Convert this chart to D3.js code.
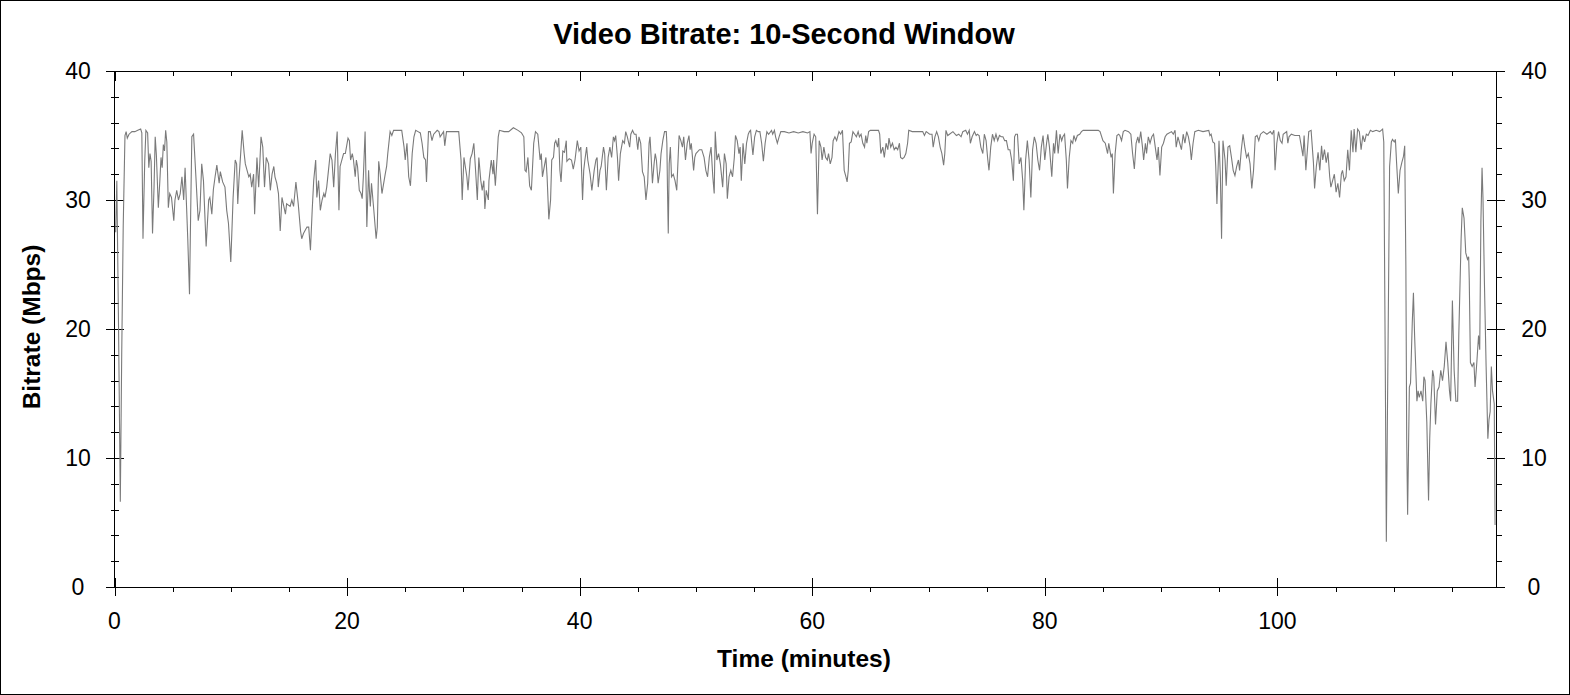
<!DOCTYPE html>
<html>
<head>
<meta charset="utf-8">
<script src="https://cdn.jsdelivr.net/npm/d3@7"></script>
<style>
  body { margin: 0; background: #fff; }
  svg { display: block; font-family: "Liberation Sans", Arial, sans-serif; }
  .tick line { stroke: #000; shape-rendering: crispEdges; }
</style>
</head>
<body>
<svg id="chart" width="1570" height="695"></svg>
<script>
// bitrate samples, [minute, Mbps]
var opening = [
  [0.1,27.5],[0.2,31.5],[0.35,20],[0.5,6.6],[0.62,18],[0.75,28],[0.9,35.0],[1.0,35.3],[1.1,34.8],[1.25,35.1],
  [1.5,35.3],[1.75,35.3],[2.0,35.4],[2.25,35.5],[2.35,35.2],[2.45,27.0],[2.6,33],[2.7,35.4],[2.85,35.2],[2.95,32.5],
  [3.05,33.6],[3.15,33],[3.27,27.4],[3.4,31],[3.5,34.9],[3.6,33.5],[3.77,29.4],[3.9,31.5],[4.0,33.3],[4.1,32.5],
  [4.2,34.3],[4.3,33.8],[4.4,35.4],[4.5,34.5],[4.63,29.4],[4.75,30.5],[4.9,30.2],[5.1,28.4],[5.2,30],[5.35,30.75],
  [5.5,30.0],[5.65,30.5],[5.8,31.8],[5.95,30],[6.07,32.5],[6.2,29.4],[6.3,27],[6.45,22.7],[6.55,29],[6.65,34.9],
  [6.8,35.1],[7.0,31.8],[7.2,28.4],[7.35,29.2],[7.5,32.8],[7.65,31.5],[7.88,26.4],[8.1,30.0],[8.2,30.2],[8.37,28.9],
  [8.5,30.8],[8.65,31.8],[8.8,32.7],[9.0,31.3],[9.1,32.2],[9.3,31.4],[9.5,31.0],[9.65,29.2],[9.8,28.2],[10.0,25.2],
  [10.2,30.2],[10.38,33.1],[10.5,32.8],[10.6,29.7],[10.7,31.5],[10.98,35.4],[11.15,33.6],[11.25,32.8],[11.4,32.3],[11.55,31.8],
  [11.67,32.0],[11.8,31.0],[11.96,32.0],[12.05,28.9],[12.25,33.3],[12.4,31.0],[12.6,34.9],[12.75,34.1],[12.9,31.0],[13.05,33.3],
  [13.25,32.8],[13.4,30.75],[13.55,32.0],[13.7,32.6],[13.8,31.8],[13.95,31.3],[14.1,30.5],[14.25,27.6],[14.4,30.2],[14.7,28.9],
  [14.8,29.7],[15.1,29.5],[15.25,30],[15.4,29.5],[15.6,31.4],[15.8,29.7],[16.0,27.6],[16.1,27.0],[16.25,27.4],[16.55,27.9],
  [16.7,27.9],[16.85,26.1],[17.0,29.2],[17.13,31.5],[17.3,33.1],[17.4,30.2],[17.55,31.5],[17.7,29.2],[17.85,30],[18.0,30.5],
  [18.1,30.2],[18.25,31.0],[18.4,32.3],[18.55,33.6],[18.7,33.1],[18.85,31.0],[19.0,33.6],[19.15,35.3],[19.3,29.2],[19.4,32.6],
  [19.7,33.6],[19.85,33.6]
];

var twenties = [
  [20.08,34.8],[20.2,34.6],[20.3,33.1],[20.45,33.6],[20.55,33.1],[20.7,31.8],[20.8,33.1],[20.9,32.6],[21.05,30.75],[21.2,30.5],
  [21.3,30.1],[21.4,31.8],[21.55,35.3],[21.62,31.8],[21.7,27.9],[21.85,32.3],[21.92,30.75],[22.0,29.5],[22.1,31.3],[22.3,29.2],
  [22.5,27.0],[22.6,27.9],[22.72,33.0],[22.85,32.0],[23.0,30.5],[23.28,32.0],[23.4,32.6],[23.5,33.6],[23.7,35.3],[23.85,35.0],
  [24.0,35.4],[24.3,35.4],[24.7,35.4],[24.9,34.1],[25.0,33.1],[25.15,34.4],[25.3,31.8],[25.45,31.1],[25.6,33.6],[25.75,34.9],
  [25.9,35.4],[26.1,35.3],[26.3,35.2],[26.45,34.4],[26.6,33.3],[26.75,33.1],[26.83,31.4],[27.0,35.3],[27.15,35.3],[27.3,34.6],
  [27.45,35.1],[27.75,35.4],[27.9,35.3],[28.0,34.9],[28.3,35.3],[28.4,34.2],[28.55,35.3],[28.75,35.3],[29.0,35.3],[29.3,35.3],
  [29.6,35.3],[29.8,33.1],[29.9,30.0],[30.05,33.3],[30.2,32.4],[30.3,31.8],[30.4,30.75],[30.6,33.2],[30.75,33.6],[30.9,34.4],
  [31.05,32.3],[31.2,30.0],[31.33,33.3],[31.5,31.5],[31.62,30.75],[31.76,31.5],[31.85,29.3],[31.97,30.75],[32.15,30.0],[32.2,31.5],
  [32.4,33.1],[32.55,32.0],[32.6,33.1],[32.75,31.1],[32.9,33.3],[33.0,34.9],[33.1,35.4],[33.5,35.3],[33.9,35.3],[34.3,35.6],
  [34.7,35.4],[35.0,35.2],[35.2,34.9],[35.3,32.3],[35.4,32.2],[35.55,33.3],[35.7,31.1],[35.85,30.75],[36.05,34.4],[36.2,35.3],
  [36.4,35.1],[36.6,33.1],[36.7,33.6],[36.8,31.8],[37.1,33.3],[37.2,31.8],[37.35,28.5],[37.5,30.0],[37.6,33.1],[37.75,33.3],
  [37.85,34.4],[37.95,34.6],[38.1,34.1],[38.2,34.8],[38.3,32.3],[38.4,31.4],[38.55,33.8],[38.7,33.7],[38.85,34.6],[38.9,33.0],
  [39.1,33.2],[39.3,33.1],[39.45,32.4],[39.6,33.1],[39.8,34.6],[39.95,33.8],[40.1,34.1]
];

var forties = [
  [40.25,30.0],[40.35,32.3],[40.45,33.1],[40.6,34.1],[40.7,33.1],[40.9,32.0],[41.05,30.75],[41.25,32.3],[41.4,33.1],[41.5,33.3],
  [41.6,31.0],[41.75,32.3],[41.85,32.6],[42.05,34.1],[42.15,33.6],[42.3,30.75],[42.45,33.3],[42.6,34.1],[42.75,33.3],[42.9,34.9],
  [43.0,34.6],[43.1,35.0],[43.25,33.3],[43.35,31.5],[43.5,33.6],[43.7,34.6],[43.85,34.4],[43.96,35.3],[44.1,34.9],[44.3,34.1],
  [44.4,35.1],[44.55,35.4],[44.7,35.1],[44.85,35.1],[45.0,33.9],[45.1,34.9],[45.25,34.4],[45.4,32.2],[45.55,31.8],[45.7,30.0],
  [45.85,31.3],[45.97,34.4],[46.05,34.9],[46.15,33.3],[46.26,31.3],[46.4,32.8],[46.5,33.6],[46.6,33.1],[46.75,31.3],[46.9,32.3],
  [47.0,33.6],[47.15,34.6],[47.3,35.3],[47.45,35.3],[47.5,34.4],[47.55,31.0],[47.62,27.4],[47.7,32.8],[47.8,34.1],[47.9,31.8],
  [48.05,32.0],[48.2,31.5],[48.35,30.75],[48.55,35.0],[48.7,34.6],[48.84,34.1],[48.95,34.9],[49.1,33.1],[49.25,34.4],[49.4,35.0],
  [49.5,33.9],[49.6,34.4],[49.8,32.3],[49.9,33.3],[50.0,33.6],[50.3,33.9],[50.5,33.9],[50.7,33.3],[50.85,32.3],[51.0,31.8],
  [51.15,33.3],[51.3,34.1],[51.45,31.8],[51.57,30.5],[51.66,35.3],[51.8,33.1],[51.95,33.6],[52.1,32.8],[52.3,31.0],[52.45,33.6],
  [52.6,32.8],[52.7,30.1],[52.85,31.8],[53.0,32.3],[53.15,31.8],[53.3,33.3],[53.4,35.0],[53.55,34.6],[53.7,33.6],[53.8,34.1],
  [53.9,31.5],[54.05,34.4],[54.2,32.8],[54.35,34.4],[54.5,35.1],[54.6,35.3],[54.7,35.4],[54.8,34.4],[54.9,33.5],[55.05,34.9],
  [55.2,35.4],[55.35,35.3],[55.5,35.3],[55.65,34.4],[55.8,33.0],[55.95,34.4],[56.1,35.3],[56.25,35.1],[56.5,35.4],[56.6,35.1],
  [56.75,35.4],[56.85,34.9],[57.0,34.4],[57.15,34.9],[57.3,35.3],[57.6,35.3],[58.0,35.2],[58.4,35.3],[58.8,35.2],[59.2,35.3],
  [59.6,35.2],[59.8,35.3],[59.9,33.6],[60.0,34.4],[60.16,35.1],[60.3,34.9],[60.45,28.9],[60.6,34.6]
];

var sixties = [
  [60.75,34.1],[60.85,33.1],[61.0,34.1],[61.15,33.3],[61.3,33.1],[61.4,33.6],[61.55,32.8],[61.7,33.3],[61.8,34.6],[61.95,34.9],
  [62.1,34.6],[62.3,35.3],[62.45,35.1],[62.6,35.4],[62.75,32.3],[62.9,31.8],[63.0,31.4],[63.1,32.3],[63.2,34.4],[63.35,34.5],
  [63.5,35.3],[63.65,35.1],[63.8,34.9],[63.95,35.3],[64.06,34.9],[64.2,35.1],[64.35,34.4],[64.5,34.1],[64.6,35.0],[64.7,34.4],
  [64.85,35.3],[65.0,35.4],[65.3,35.4],[65.7,35.4],[65.8,35.1],[65.9,33.6],[66.07,34.1],[66.2,33.3],[66.35,34.4],[66.5,33.9],
  [66.6,34.8],[66.75,34.1],[66.9,34.4],[67.05,33.9],[67.2,34.1],[67.35,33.9],[67.5,34.4],[67.6,33.3],[67.75,33.2],[67.9,33.3],
  [68.05,33.6],[68.2,34.4],[68.3,35.4],[68.6,35.3],[69.0,35.3],[69.5,35.3],[69.65,35.0],[69.8,35.3],[70.1,35.1],[70.3,35.1],
  [70.4,34.1],[70.55,34.9],[70.7,35.3],[70.85,34.9],[71.0,34.1],[71.15,33.6],[71.3,32.7],[71.4,33.6],[71.5,35.4],[71.65,35.0],
  [71.8,35.1],[72.1,35.3],[72.4,35.0],[72.6,35.1],[72.8,34.9],[72.95,35.3],[73.2,35.4],[73.35,35.1],[73.5,35.4],[73.6,34.4],
  [73.75,34.9],[73.95,35.3],[74.1,35.0],[74.2,35.1],[74.35,35.0],[74.5,34.1],[74.67,33.6],[74.8,35.1],[74.95,34.6],[75.1,33.1],
  [75.2,32.3],[75.35,34.1],[75.5,35.1],[75.65,34.6],[75.8,35.1],[75.95,34.6],[76.1,35.0],[76.25,34.9],[76.4,34.9],[76.55,34.6],
  [76.7,34.6],[76.85,33.9],[77.0,33.9],[77.15,33.1],[77.3,31.5],[77.4,34.9],[77.5,35.1],[77.65,35.1],[77.8,32.8],[77.95,33.3],
  [78.1,31.5],[78.2,29.2],[78.35,33.1],[78.5,34.6],[78.65,33.1],[78.8,30.2],[78.95,33.9],[79.1,34.9],[79.25,34.4],[79.4,33.1],
  [79.55,32.3],[79.7,34.1],[79.85,35.0],[80.0,33.1],[80.15,34.4],[80.26,35.1],[80.4,34.1],[80.6,31.8],[80.75,34.4]
];

var eighties = [
  [80.85,33.6],[81.0,35.4],[81.15,33.6],[81.3,35.1],[81.45,34.6],[81.55,34.9],[81.7,35.1],[81.85,33.1],[81.95,30.9],[82.1,33.3],
  [82.25,34.6],[82.4,34.4],[82.5,35.0],[82.65,34.6],[82.8,35.0],[83.0,35.1],[83.15,35.3],[83.3,35.4],[83.7,35.4],[84.1,35.4],
  [84.6,35.4],[84.75,35.3],[85.0,34.6],[85.2,34.4],[85.4,33.6],[85.5,34.4],[85.7,33.3],[85.8,33.6],[85.9,30.5],[86.05,33.6],
  [86.2,35.0],[86.35,35.1],[86.45,35.0],[86.6,34.6],[86.75,35.3],[86.9,35.4],[87.2,35.3],[87.4,35.1],[87.55,33.6],[87.7,32.4],
  [87.85,34.4],[88.0,34.9],[88.1,34.4],[88.25,35.3],[88.4,34.1],[88.5,33.1],[88.65,34.4],[88.75,33.6],[88.9,34.9],[89.05,34.4],
  [89.2,34.9],[89.35,35.1],[89.5,34.1],[89.65,33.1],[89.76,34.1],[89.9,31.9],[90.05,34.1],[90.2,34.4],[90.35,34.9],[90.5,35.1],
  [90.9,35.3],[91.05,35.1],[91.2,35.4],[91.3,34.1],[91.45,34.9],[91.6,34.4],[91.75,33.9],[91.9,35.1],[92.05,34.4],[92.2,35.3],
  [92.35,34.9],[92.5,34.1],[92.6,33.1],[92.75,34.4],[92.9,35.3],[93.2,35.4],[93.6,35.3],[94.1,35.4],[94.2,35.0],[94.3,35.1],
  [94.45,34.5],[94.6,34.4],[94.7,32.6],[94.8,29.7],[94.98,34.6],[95.1,31.8],[95.2,27.0],[95.32,34.6],[95.5,33.1],[95.6,31.1],
  [95.75,34.1],[95.9,34.2],[96.05,33.3],[96.2,32.3],[96.35,31.9],[96.5,32.6],[96.65,33.1],[96.75,32.3],[96.9,33.9],[97.05,35.1],
  [97.2,34.1],[97.35,33.3],[97.5,33.6],[97.65,32.8],[97.8,30.9],[97.95,32.3],[98.1,34.9],[98.25,35.0],[98.4,34.6],[98.55,35.1],
  [98.8,35.3],[99.1,35.1],[99.4,35.3],[99.55,35.1],[99.7,35.4],[99.8,32.3],[99.95,34.4],[100.1,35.3],[100.25,34.6],[100.4,34.4],
  [100.5,35.1],[100.8,35.3],[100.9,34.4],[101.0,34.9],[101.2,35.1],[101.5,35.0]
];

// the last reel, where the rate falls apart
var closing = [
  [101.9,35.0],[102.2,33.4],[102.3,35.0],[102.45,32.3],[102.7,35.3],[102.9,35.4],[103.1,32.9],[103.2,30.9],[103.35,32.6],[103.5,33.7],
  [103.65,32.3],[103.8,34.2],[103.9,33.1],[104.05,33.9],[104.2,32.9],[104.35,33.7],[104.5,31.8],[104.6,31.0],[104.75,31.5],[104.9,32.0],
  [105.05,30.6],[105.2,31.3],[105.35,30.2],[105.5,32.0],[105.6,32.3],[105.75,31.5],[105.9,31.8],[106.05,33.9],[106.2,32.3],[106.35,35.4],
  [106.5,33.7],[106.6,35.5],[106.75,33.7],[106.9,35.5],[107.05,35.3],[107.2,33.9],[107.35,35.0],[107.5,34.5],[107.65,35.1],[107.8,35.0],
  [108.0,35.4],[108.2,35.3],[108.5,35.4],[108.8,35.3],[109.05,35.5],[109.15,34.5],[109.28,16.8],[109.37,3.5],[109.45,12],[109.52,19.0],
  [109.65,32.6],[109.8,34.5],[109.9,34.7],[110.05,34.5],[110.15,34.7],[110.25,32.9],[110.4,30.5],[110.55,32.3],[110.7,32.9],[110.85,33.4],
  [110.95,34.2],[111.05,24.8],[111.12,11.5],[111.2,5.6],[111.35,15.5],[111.45,15.8],[111.6,20.5],[111.7,22.8],[111.8,19.5],[112.0,14.4],
  [112.1,15.2],[112.2,14.7],[112.35,15.2],[112.5,14.4],[112.6,16.3],[112.7,16.0],[112.85,12.8],[113.0,6.7],[113.1,11.5],[113.2,14.2],
  [113.35,16.8],[113.45,16.3],[113.6,12.6],[113.75,15.2],[113.9,15.5],[114.05,16.8],[114.2,16.0],[114.35,17.1],[114.5,19.0],[114.65,17.4],
  [114.8,15.2],[114.9,14.4],[115.05,22.2],[115.2,16.8],[115.35,14.4],[115.5,14.4],[115.6,19.5],[115.8,27.0],[115.9,29.4],[116.05,28.6],
  [116.2,25.9],[116.35,25.4],[116.45,25.6],[116.5,23.8],[116.6,17.4],[116.75,17.1],[116.9,17.4],[117.0,15.5],[117.15,17.4],[117.3,19.5],
  [117.4,18.4],[117.5,28.3],[117.6,32.5],[117.68,30.2],[117.8,23.8],[117.95,17.1],[118.1,11.5],[118.2,13.0],[118.3,13.6],[118.4,17.1],
  [118.5,15.2],[118.65,14.2],[118.72,4.8]
];

var samples = opening.concat(twenties, forties, sixties, eighties, closing);

var xMajor = [0, 20, 40, 60, 80, 100];
var xMinor = [5, 10, 15, 25, 30, 35, 45, 50, 55, 65, 70, 75, 85, 90, 95, 105, 110, 115];
var yMajor = [0, 10, 20, 30, 40];
var yMinor = [2, 4, 6, 8, 12, 14, 16, 18, 22, 24, 26, 28, 32, 34, 36, 38];

var L = 114.5, R = 1496, T = 71, B = 587;

var svg = d3.select("#chart");

svg.append("rect")
  .attr("x", 0.5).attr("y", 0.5)
  .attr("width", 1569).attr("height", 694)
  .attr("fill", "#fff").attr("stroke", "#000");

var x = d3.scaleLinear().domain([0, 118.8]).range([L, R]);
var y = d3.scaleLinear().domain([0, 40]).range([B, T]);

// ticks only, labels are placed by hand further down
function ticks(axis, values, size) {
  return axis.tickValues(values).tickSize(size).tickSizeOuter(0).tickFormat("");
}
function addAxis(axis, tx, ty) {
  var g = svg.append("g").attr("transform", "translate(" + tx + "," + ty + ")").call(axis);
  g.select(".domain").remove();
  return g;
}

// bottom: majors cross the line, minors point out
addAxis(ticks(d3.axisBottom(x), xMajor, 9), 0, B);
addAxis(ticks(d3.axisTop(x), xMajor, 9), 0, B);
addAxis(ticks(d3.axisBottom(x), xMinor, 5), 0, B);
// top: everything points in
addAxis(ticks(d3.axisBottom(x), xMajor, 10), 0, T);
addAxis(ticks(d3.axisBottom(x), xMinor, 5), 0, T);
// left
addAxis(ticks(d3.axisLeft(y), yMajor, 9), L, 0);
addAxis(ticks(d3.axisRight(y), yMajor, 9), L, 0);
addAxis(ticks(d3.axisLeft(y), yMinor, 4), L, 0);
addAxis(ticks(d3.axisRight(y), yMinor, 4), L, 0);
// right
addAxis(ticks(d3.axisLeft(y), yMajor, 9), R, 0);
addAxis(ticks(d3.axisRight(y), yMajor, 9), R, 0);
addAxis(ticks(d3.axisRight(y), yMinor, 6), R, 0);

// plot frame
svg.append("rect")
  .attr("x", L).attr("y", T)
  .attr("width", R - L).attr("height", B - T)
  .attr("fill", "none").attr("stroke", "#000")
  .attr("shape-rendering", "crispEdges");

var line = d3.line()
  .x(function(d) { return x(d[0]); })
  .y(function(d) { return y(d[1]); });

svg.append("path")
  .datum(samples)
  .attr("d", line)
  .attr("fill", "none")
  .attr("stroke", "#7a7a7a")
  .attr("stroke-width", 1.1);

// tick labels
svg.append("g").selectAll("text")
  .data(xMajor).enter().append("text")
  .attr("x", function(d) { return x(d); })
  .attr("y", 628.5)
  .attr("text-anchor", "middle")
  .attr("font-size", 23)
  .text(function(d) { return d; });

[78, 1534].forEach(function(cx) {
  svg.append("g").selectAll("text")
    .data(yMajor).enter().append("text")
    .attr("x", cx)
    .attr("y", function(d) { return y(d) + 8; })
    .attr("text-anchor", "middle")
    .attr("font-size", 23)
    .text(function(d) { return d; });
});

svg.append("text")
  .attr("x", 784).attr("y", 44)
  .attr("text-anchor", "middle")
  .attr("font-size", 29).attr("font-weight", "bold")
  .text("Video Bitrate: 10-Second Window");

svg.append("text")
  .attr("x", 804).attr("y", 667)
  .attr("text-anchor", "middle")
  .attr("font-size", 24.5).attr("font-weight", "bold")
  .text("Time (minutes)");

svg.append("text")
  .attr("transform", "translate(40,327) rotate(-90)")
  .attr("text-anchor", "middle")
  .attr("font-size", 24.5).attr("font-weight", "bold")
  .text("Bitrate (Mbps)");
</script>
</body>
</html>
